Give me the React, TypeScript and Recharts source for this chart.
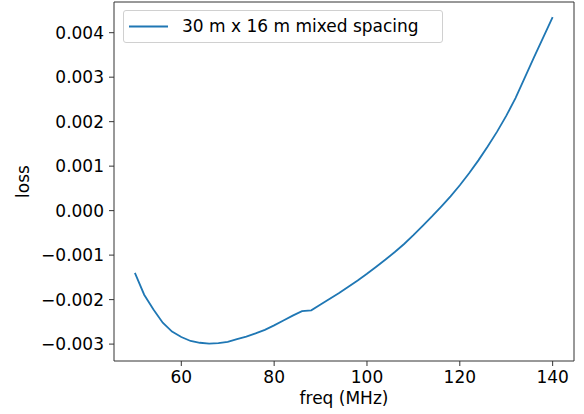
import { LineChart, Line, XAxis, YAxis, Legend, CartesianGrid } from "recharts";

const FONT = "'DejaVu Sans', sans-serif";
const BLUE = "#1f77b4";

// freq (MHz), sampled every 2 MHz
const freq = [
  50, 52, 54, 56, 58, 60, 62, 64, 66, 68, 70, 72, 74, 76, 78, 80, 82, 84, 86, 88,
  90, 92, 94, 96, 98, 100, 102, 104, 106, 108, 110, 112, 114, 116, 118, 120, 122,
  124, 126, 128, 130, 132, 134, 136, 138, 140,
];

// loss (x 1e-3)
const lossMilli = [
  -1.40, -1.89, -2.22, -2.52, -2.72, -2.84, -2.93, -2.97, -2.99, -2.98, -2.95,
  -2.89, -2.83, -2.76, -2.68, -2.58, -2.47, -2.36, -2.26, -2.24, -2.11, -1.98,
  -1.85, -1.71, -1.57, -1.42, -1.26, -1.10, -0.93, -0.75, -0.55, -0.34, -0.13,
  0.09, 0.32, 0.57, 0.84, 1.13, 1.44, 1.77, 2.13, 2.53, 2.99, 3.45, 3.90, 4.35,
];

const xTicks = [60, 80, 100, 120, 140];
const yTicks = [-0.003, -0.002, -0.001, 0, 0.001, 0.002, 0.003, 0.004];
const seriesName = "30 m x 16 m mixed spacing";

const data = freq.map((f, i) => ({ freq: f, loss: lossMilli[i] / 1000 }));

const fmtY = (v: number) => v.toFixed(3).replace("-", "\u2212");

const tickStyle = { fontSize: 17, fill: "#000", fontFamily: FONT };
const spine = { stroke: "#333", strokeWidth: 1 };

function LegendBox() {
  return (
    <div
      style={{
        display: "flex",
        alignItems: "center",
        width: 318,
        height: 31,
        border: "1px solid #d0d0d0",
        borderRadius: 3,
        background: "rgba(255,255,255,0.8)",
        fontFamily: FONT,
        fontSize: 17,
        color: "#000",
        boxSizing: "content-box",
      }}
    >
      <svg width={58} height={31} style={{ flex: "none" }}>
        <line x1={5} x2={44} y1={15.5} y2={15.5} stroke={BLUE} strokeWidth={1.8} />
      </svg>
      <span style={{ whiteSpace: "nowrap", lineHeight: "31px" }}>{seriesName}</span>
    </div>
  );
}

export default function App() {
  return (
    <div style={{ position: "absolute", left: 0, top: 0, width: 584, height: 414, background: "#fff" }}>
      <LineChart
        width={584}
        height={414}
        data={data}
        margin={{ top: 2, right: 10, bottom: 0, left: 0 }}
      >
        {/* top and right spines */}
        <CartesianGrid
          stroke="#333"
          strokeWidth={1}
          horizontalCoordinatesGenerator={({ offset }: any) => [offset.top]}
          verticalCoordinatesGenerator={({ offset }: any) => [offset.left + offset.width]}
        />
        <XAxis
          dataKey="freq"
          type="number"
          domain={[45.5, 144.6]}
          allowDataOverflow
          ticks={xTicks}
          height={53}
          tick={tickStyle}
          tickSize={5}
          tickMargin={5}
          axisLine={spine}
          tickLine={spine}
          label={{
            value: "freq (MHz)",
            position: "insideBottom",
            offset: 10,
            style: { fontSize: 17, fill: "#000", fontFamily: FONT },
          }}
        />
        <YAxis
          type="number"
          domain={[-0.00338, 0.00469]}
          allowDataOverflow
          ticks={yTicks}
          width={114}
          tick={tickStyle}
          tickFormatter={fmtY}
          tickSize={5}
          tickMargin={5}
          axisLine={spine}
          tickLine={spine}
          label={{
            content: (props: any) => {
              const vb = props.viewBox || { x: 0, y: 2, height: 359 };
              const cx = vb.x + 29;
              const cy = vb.y + vb.height / 2;
              return (
                <text
                  x={cx}
                  y={cy}
                  transform={`rotate(-90, ${cx}, ${cy})`}
                  textAnchor="middle"
                  fontSize={17}
                  fontFamily={FONT}
                  fill="#000"
                >
                  loss
                </text>
              );
            },
          }}
        />
        <Legend
          layout="horizontal"
          align="center"
          verticalAlign="middle"
          wrapperStyle={{ top: 10, left: 123, width: "auto", height: "auto" }}
          content={() => <LegendBox />}
        />
        <Line
          dataKey="loss"
          name={seriesName}
          type="linear"
          stroke={BLUE}
          strokeWidth={1.8}
          dot={false}
          activeDot={false}
          isAnimationActive={false}
        />
      </LineChart>
    </div>
  );
}
